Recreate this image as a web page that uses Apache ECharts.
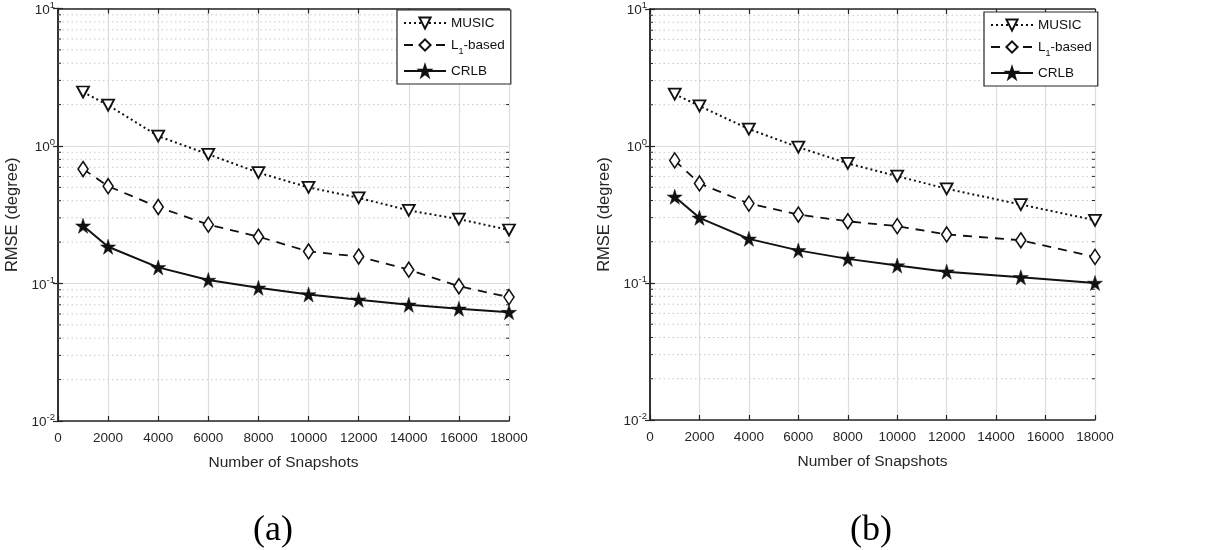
<!DOCTYPE html>
<html><head><meta charset="utf-8">
<script src="https://cdn.jsdelivr.net/npm/echarts@6/dist/echarts.min.js"></script>
<style>html,body{margin:0;padding:0;background:#fff}#c{width:1207px;height:550px}</style>
</head><body><div id="c"></div>
<script>
// ---- data ----
const xA = [1000, 2000, 4000, 6000, 8000, 10000, 12000, 14000, 16000, 18000];
const musicA = [2.47, 1.98, 1.18, 0.87, 0.64, 0.50, 0.42, 0.34, 0.294, 0.245];
const l1A = [0.68, 0.51, 0.36, 0.268, 0.219, 0.171, 0.157, 0.126, 0.0955, 0.0796];
const crlbA = [0.263, 0.185, 0.131, 0.106, 0.093, 0.0832, 0.0762, 0.070, 0.0655, 0.0619];

const xB = [1000, 2000, 4000, 6000, 8000, 10000, 12000, 15000, 18000];
const musicB = [2.39, 1.96, 1.33, 0.98, 0.747, 0.603, 0.487, 0.374, 0.287];
const l1B = [0.785, 0.533, 0.38, 0.316, 0.282, 0.26, 0.226, 0.205, 0.155];
const crlbB = [0.426, 0.299, 0.21, 0.173, 0.15, 0.134, 0.121, 0.110, 0.1];

const seriesNames = ['MUSIC', 'L1-based', 'CRLB'];
const minorVals = [0.02,0.03,0.04,0.05,0.06,0.07,0.08,0.09,0.2,0.3,0.4,0.5,0.6,0.7,0.8,0.9,2,3,4,5,6,7,8,9];
const captions = ['(a)', '(b)'];

// ---- helpers ----
const FONT = 'Liberation Sans, Arial, sans-serif';
const STAR = 'path://M50,0 L61.2,34.5 L97.6,34.5 L68.2,55.9 L79.4,90.5 L50,69.1 L20.6,90.5 L31.8,55.9 L2.4,34.5 L38.8,34.5 Z';
const zip = (xs, ys) => xs.map((x, i) => [x, ys[i]]);
const grids = [
  {left: 58, top: 7, width: 451, height: 414},
  {left: 650, top: 9, width: 445, height: 411}
];
const legendPos = [{left: 397, top: 10}, {left: 984, top: 12}];
const captionX = [268, 866];

function supLabel(v) {
  const e = Math.round(Math.log10(v));
  return '{b|10}{s|' + e + '}';
}

const xAxes = [], yAxes = [], series = [], legends = [], titles = [];
[0, 1].forEach(g => {
  xAxes.push({
    gridIndex: g, type: 'value', min: 0, max: 18000, interval: 2000,
    name: 'Number of Snapshots', nameLocation: 'middle', nameGap: 34,
    nameTextStyle: {fontFamily: FONT, fontSize: 15.5, color: '#262626'},
    axisLine: {lineStyle: {color: '#262626', width: 1.5}},
    axisTick: {inside: true, length: 5, lineStyle: {color: '#262626', width: 1.2}},
    axisLabel: {fontFamily: FONT, fontSize: 13.5, color: '#262626', margin: 10,
      formatter: v => String(v)},
    splitLine: {show: true, lineStyle: {color: '#dcdcdc', width: 1.2}}
  });
  xAxes.push({
    gridIndex: g, type: 'value', position: 'top', min: 0, max: 18000, interval: 2000,
    axisLine: {lineStyle: {color: '#262626', width: 1.5}},
    axisTick: {inside: true, length: 5, lineStyle: {color: '#262626', width: 1.2}},
    axisLabel: {show: false}, splitLine: {show: false}
  });
  yAxes.push({
    gridIndex: g, type: 'log', logBase: 10, min: 0.01, max: 10,
    name: 'RMSE (degree)', nameLocation: 'middle', nameGap: 37,
    nameTextStyle: {fontFamily: FONT, fontSize: 16.5, color: '#262626'},
    axisLine: {show: true, lineStyle: {color: '#262626', width: 1.5}},
    axisTick: {inside: true, length: 5, lineStyle: {color: '#262626', width: 1.2}},
    axisLabel: {
      fontFamily: FONT, color: '#262626', margin: 3,
      formatter: supLabel,
      rich: {
        b: {fontFamily: FONT, fontSize: 13.5, color: '#262626', verticalAlign: 'bottom', lineHeight: 17},
        s: {fontFamily: FONT, fontSize: 9.5, color: '#262626', verticalAlign: 'top', lineHeight: 17}
      }
    },
    splitLine: {show: true, lineStyle: {color: '#dcdcdc', width: 1.2}}
  });
  yAxes.push({
    gridIndex: g, type: 'log', logBase: 10, min: 0.01, max: 10, position: 'right',
    axisLine: {show: true, lineStyle: {color: '#262626', width: 1.5}},
    axisTick: {inside: true, length: 5, lineStyle: {color: '#262626', width: 1.2}},
    axisLabel: {show: false}, splitLine: {show: false}
  });
});

const xi = g => g * 2, yi = g => g * 2;

function minorSeries(g) {
  return {
    type: 'custom', xAxisIndex: xi(g), yAxisIndex: yi(g), silent: true, z: 1,
    data: minorVals.map(v => [0, v]),
    renderItem: function (params, api) {
      const cs = params.coordSys;
      const y = api.coord([0, api.value(1)])[1];
      return {
        type: 'group', children: [
          {type: 'line', shape: {x1: cs.x, y1: y, x2: cs.x + cs.width, y2: y},
           style: {stroke: '#c8c8c8', lineWidth: 1, lineDash: [1.5, 3]}},
          {type: 'line', shape: {x1: cs.x, y1: y, x2: cs.x + 3, y2: y},
           style: {stroke: '#262626', lineWidth: 1}},
          {type: 'line', shape: {x1: cs.x + cs.width - 3, y1: y, x2: cs.x + cs.width, y2: y},
           style: {stroke: '#262626', lineWidth: 1}}
        ]
      };
    }
  };
}

const datasets = [
  {x: xA, m: musicA, l: l1A, c: crlbA},
  {x: xB, m: musicB, l: l1B, c: crlbB}
];

[0, 1].forEach(g => {
  const d = datasets[g];
  series.push(minorSeries(g));
  series.push({
    name: seriesNames[0], type: 'line', xAxisIndex: xi(g), yAxisIndex: yi(g), z: 5,
    data: zip(d.x, d.m), symbol: 'triangle', symbolRotate: 180, symbolSize: [12, 11],
    showAllSymbol: true,
    lineStyle: {color: '#111', width: 2, type: [2, 3]},
    itemStyle: {color: '#fff', borderColor: '#111', borderWidth: 1.8}
  });
  series.push({
    name: seriesNames[1], type: 'line', xAxisIndex: xi(g), yAxisIndex: yi(g), z: 5,
    data: zip(d.x, d.l), symbol: 'diamond', symbolSize: [10, 15],
    lineStyle: {color: '#111', width: 1.8, type: [9, 7]},
    itemStyle: {color: '#fff', borderColor: '#111', borderWidth: 1.6}
  });
  series.push({
    name: seriesNames[2], type: 'line', xAxisIndex: xi(g), yAxisIndex: yi(g), z: 5,
    data: zip(d.x, d.c), symbol: STAR, symbolSize: 15,
    lineStyle: {color: '#111', width: 2},
    itemStyle: {color: '#111', borderColor: '#111', borderWidth: 0.5}
  });
  legends.push({
    left: legendPos[g].left, top: legendPos[g].top, orient: 'vertical',
    data: seriesNames,
    backgroundColor: '#fff', borderColor: '#262626', borderWidth: 1.2,
    padding: [6, 6, 6, 6], itemGap: 8, itemWidth: 42, itemHeight: 14,
    textStyle: {fontFamily: FONT, fontSize: 13.5, color: '#111',
      rich: {sub: {fontFamily: FONT, fontSize: 9, color: '#111', verticalAlign: 'bottom', lineHeight: 22},
             t: {fontFamily: FONT, fontSize: 13.5, color: '#111', lineHeight: 18}}},
    formatter: n => n === 'L1-based' ? '{t|L}{sub|1}{t|-based}' : '{t|' + n + '}',
    selectedMode: false
  });
  titles.push({
    text: captions[g], left: captionX[g], top: 508, textAlign: 'center',
    textStyle: {fontFamily: 'Liberation Serif, Times New Roman, serif', fontSize: 36, fontWeight: 'normal', color: '#000'}
  });
});

const chart = echarts.init(document.getElementById('c'), null, {renderer: 'canvas'});
chart.setOption({
  animation: false,
  backgroundColor: '#fff',
  title: titles,
  grid: grids,
  xAxis: xAxes,
  yAxis: yAxes,
  legend: legends,
  series: series
});
</script></body></html>
